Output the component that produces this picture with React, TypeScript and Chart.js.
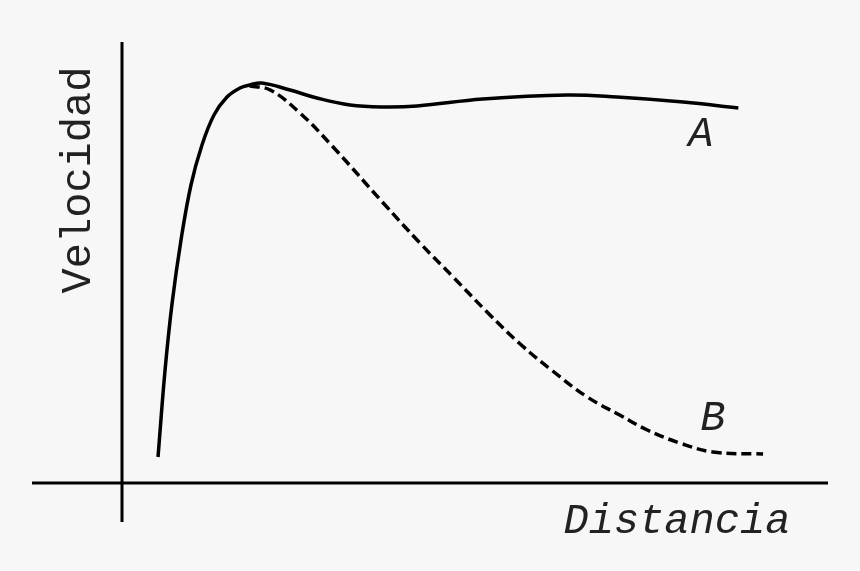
import React, { useEffect, useRef } from "react";
import { Chart, registerables } from "chart.js";

Chart.register(...registerables);

// Curve A (solid): distance vs velocity
const curveAx = [5.1, 6.1, 7.1, 8.36, 9.77, 11.33, 13.03, 14.87, 16.71, 18.1, 19.8, 23.8, 27.6, 32.3, 37.0, 41.8, 51.1, 63.0, 70.1, 79.5, 87.3];
const curveAy = [6.5, 28.25, 45, 60.75, 74.5, 84.5, 92, 96.5, 98.75, 99.5, 100, 98.25, 96.25, 94.5, 94, 94.25, 96, 97, 96.5, 95.25, 93.75];

// Curve B (dashed)
const curveBx = [18.1, 21.0, 25.2, 29.9, 37.0, 42.2, 46.9, 51.7, 56.4, 61.0, 65.9, 70.5, 74.4, 79.0, 83.7, 90.8];
const curveBy = [99.25, 98.25, 92.5, 84, 70, 60, 51.5, 42.75, 34.75, 28, 21.5, 17, 13.25, 10, 7.75, 7.25];

// Axis lines (data units)
const xAxisX = [-12.75, 100];
const xAxisY = [0, 0];
const yAxisX = [0, 0];
const yAxisY = [-9.75, 110.25];

const curveLabels = ["A", "B"];
const xTitle = "Distancia";
const yTitle = "Velocidad";

const toPts = (xs: number[], ys: number[]) => xs.map((x, i) => ({ x, y: ys[i] }));

const FONT_FAMILY = "'Courier New', 'Nimbus Mono PS', 'FreeMono', Courier, 'Liberation Mono', monospace";

export default function App() {
  const ref = useRef<HTMLCanvasElement | null>(null);

  useEffect(() => {
    if (!ref.current) return;
    const textPlugin = {
      id: "texts",
      beforeDraw(chart: any) {
        const c = chart.ctx;
        c.save();
        c.fillStyle = "#f7f7f7";
        c.fillRect(0, 0, chart.width, chart.height);
        c.restore();
      },
      afterDraw(chart: any) {
        const c = chart.ctx;
        const xs = chart.scales.x;
        const ys = chart.scales.y;
        c.save();
        c.fillStyle = "#222";
        c.textAlign = "center";
        c.textBaseline = "alphabetic";
        c.font = "italic 42px " + FONT_FAMILY;
        c.fillText(curveLabels[0], xs.getPixelForValue(82), ys.getPixelForValue(84.25));
        c.fillText(curveLabels[1], xs.getPixelForValue(83.7), ys.getPixelForValue(13.25));
        c.fillText(xTitle, xs.getPixelForValue(78.6), ys.getPixelForValue(-12.5));
        c.font = "42px " + FONT_FAMILY;
        c.translate(xs.getPixelForValue(-4.5), ys.getPixelForValue(75.75));
        c.rotate(-Math.PI / 2);
        c.fillText(yTitle, 0, 0);
        c.restore();
      },
    };

    const chart = new Chart(ref.current, {
      type: "line",
      data: {
        datasets: [
          {
            label: "xaxis",
            data: toPts(xAxisX, xAxisY),
            borderColor: "#000",
            borderWidth: 3,
            pointRadius: 0,
            tension: 0,
          },
          {
            label: "yaxis",
            data: toPts(yAxisX, yAxisY),
            borderColor: "#000",
            borderWidth: 3,
            pointRadius: 0,
            tension: 0,
          },
          {
            label: "A",
            data: toPts(curveAx, curveAy),
            borderColor: "#000",
            borderWidth: 3.5,
            pointRadius: 0,
            tension: 0.4,
          },
          {
            label: "B",
            data: toPts(curveBx, curveBy),
            borderColor: "#000",
            borderWidth: 3.5,
            borderDash: [10, 5],
            pointRadius: 0,
            tension: 0.4,
          },
        ],
      },
      options: {
        responsive: false,
        animation: false,
        layout: { padding: 0 },
        plugins: { legend: { display: false }, tooltip: { enabled: false } },
        scales: {
          x: { type: "linear", min: -17.28, max: 104.53, display: false },
          y: { type: "linear", min: -22, max: 120.75, display: false },
        },
      },
      plugins: [textPlugin],
    } as any);
    return () => chart.destroy();
  }, []);

  return (
    <div style={{ position: "fixed", left: 0, top: 0, width: 860, height: 571, background: "#f7f7f7" }}>
      <canvas ref={ref} width={860} height={571} style={{ display: "block" }} />
    </div>
  );
}
